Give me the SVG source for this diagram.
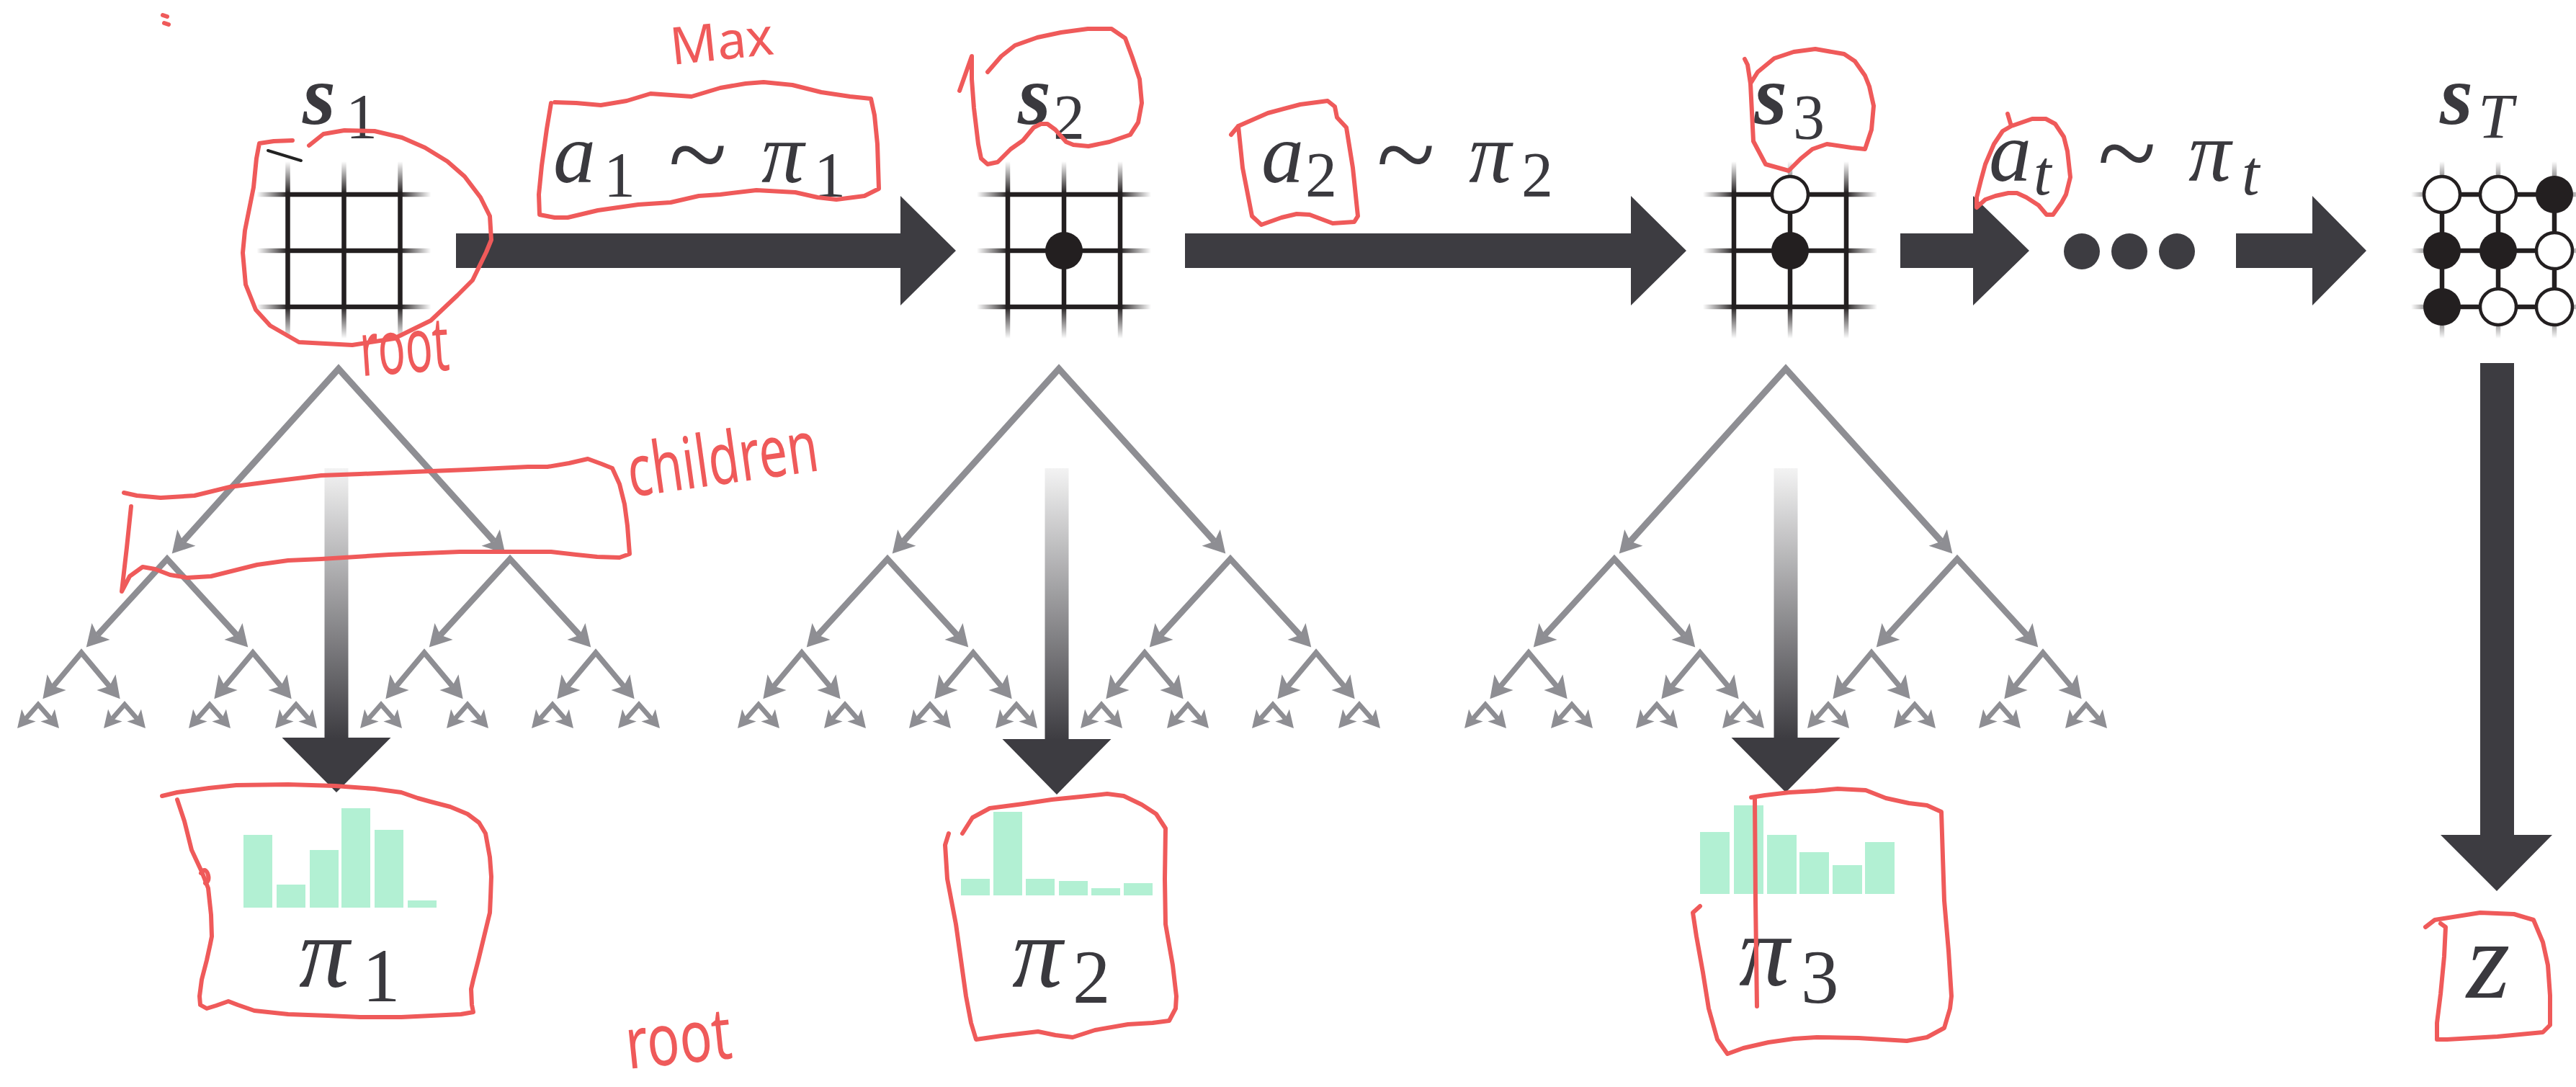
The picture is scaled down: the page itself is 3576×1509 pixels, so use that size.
<svg xmlns="http://www.w3.org/2000/svg" width="3576" height="1509" viewBox="0 0 3576 1509">
<defs>
<style>
.math{font-family:"Liberation Serif","DejaVu Serif","Times New Roman",serif;font-style:italic;fill:#3a393e}
.big{font-size:118px}
.sub{font-size:88px;font-style:normal}
.bsub{font-size:105px;font-style:normal}
.st{font-weight:bold}
.dark{fill:#3d3c41}
.bar{fill:#b2f0d3}
.bk{fill:#231f20}
.wt{fill:#fff;stroke:#231f20;stroke-width:4.5}
.e{fill:none;stroke:#8e8e93;stroke-linejoin:miter;marker-start:url(#ah);marker-end:url(#ah)}
.e1{stroke-width:9}
.e2{stroke-width:8.5}
.e3{stroke-width:7.5}
.e4{stroke-width:6.5;marker-start:url(#ahs);marker-end:url(#ahs)}
.ink{fill:none;stroke:#ef5a5a;stroke-width:6;stroke-linecap:round;stroke-linejoin:round}
.hand{font-family:"Noto Sans","DejaVu Sans",sans-serif;fill:#ef5a5a}
</style>
<marker id="ah" markerUnits="userSpaceOnUse" orient="auto-start-reverse" viewBox="0 -19 34 38" refX="7" refY="0" markerWidth="34" markerHeight="38" overflow="visible">
<path d="M0,-17 L30,0 L0,17 L7,0 Z" fill="#8e8e93"/>
</marker>
<marker id="ahs" markerUnits="userSpaceOnUse" orient="auto-start-reverse" viewBox="0 -15 28 30" refX="6" refY="0" markerWidth="28" markerHeight="30" overflow="visible">
<path d="M0,-13 L24,0 L0,13 L6,0 Z" fill="#8e8e93"/>
</marker>
<linearGradient id="gh" x1="0" y1="0" x2="1" y2="0">
<stop offset="0" stop-color="#231f20" stop-opacity="0"/>
<stop offset="0.1" stop-color="#231f20" stop-opacity="0.55"/>
<stop offset="0.18" stop-color="#231f20" stop-opacity="1"/>
<stop offset="0.82" stop-color="#231f20" stop-opacity="1"/>
<stop offset="0.9" stop-color="#231f20" stop-opacity="0.55"/>
<stop offset="1" stop-color="#231f20" stop-opacity="0"/>
</linearGradient>
<linearGradient id="gv" x1="0" y1="0" x2="0" y2="1">
<stop offset="0" stop-color="#231f20" stop-opacity="0"/>
<stop offset="0.1" stop-color="#231f20" stop-opacity="0.55"/>
<stop offset="0.18" stop-color="#231f20" stop-opacity="1"/>
<stop offset="0.82" stop-color="#231f20" stop-opacity="1"/>
<stop offset="0.9" stop-color="#231f20" stop-opacity="0.55"/>
<stop offset="1" stop-color="#231f20" stop-opacity="0"/>
</linearGradient>
<linearGradient id="fadeDown" x1="0" y1="0" x2="0" y2="1">
<stop offset="0" stop-color="#f3f3f3"/>
<stop offset="1" stop-color="#3d3c41"/>
</linearGradient>
<!-- 3x3 board with soft line ends, centred on 0,0 -->
<g id="board">
<rect x="-121" y="-81.25" width="242" height="6.5" fill="url(#gh)"/>
<rect x="-121" y="-3.25" width="242" height="6.5" fill="url(#gh)"/>
<rect x="-121" y="74.75" width="242" height="6.5" fill="url(#gh)"/>
<rect x="-81.25" y="-124" width="6.5" height="246" fill="url(#gv)"/>
<rect x="-3.25" y="-124" width="6.5" height="246" fill="url(#gv)"/>
<rect x="74.75" y="-124" width="6.5" height="246" fill="url(#gv)"/>
</g>
<!-- binary search tree, one level per group -->
<g id="t4"><path class="e e4" d="M-17.1,19.5 L0,0 L17.1,19.5"/></g>
<g id="t3"><path class="e e3" d="M-38.9,46.6 L0,0 L38.9,46.6"/><use href="#t4" x="-60" y="72"/><use href="#t4" x="60" y="72"/></g>
<g id="t2"><path class="e e2" d="M-96.7,105.6 L0,0 L96.7,105.6"/><use href="#t3" x="-119" y="130"/><use href="#t3" x="119" y="130"/></g>
<g id="t1"><path class="e e1" d="M-215.9,239.5 L0,0 L215.9,239.5"/><use href="#t2" x="-238" y="264"/><use href="#t2" x="238" y="264"/></g>
</defs>

<rect width="3576" height="1509" fill="#fff"/>

<!-- search trees -->
<g id="trees">
<use href="#t1" x="470" y="512"/>
<use href="#t1" x="1470" y="512"/>
<use href="#t1" x="2479" y="512"/>
</g>

<!-- connectors -->
<g id="connectors">
<polygon class="dark" points="633,324 1250,324 1250,272 1327,348 1250,424 1250,372 633,372"/>
<polygon class="dark" points="1645,324 2264,324 2264,272 2341,348 2264,424 2264,372 1645,372"/>
<polygon class="dark" points="2638,324 2739,324 2739,272 2817,348 2739,424 2739,372 2638,372"/>
<polygon class="dark" points="3104,324 3210,324 3210,272 3285,348 3210,424 3210,372 3104,372"/>
<polygon class="dark" points="3443,504 3490,504 3490,1159 3543,1159 3466,1237 3388,1159 3443,1159"/>
<rect x="450.5" y="650" width="33" height="375" fill="url(#fadeDown)"/>
<polygon class="dark" points="391.5,1024 542.5,1024 467,1100"/>
<rect x="1450.5" y="650" width="33" height="377" fill="url(#fadeDown)"/>
<polygon class="dark" points="1391.5,1026 1542.5,1026 1467,1103"/>
<rect x="2462.5" y="650" width="33" height="375" fill="url(#fadeDown)"/>
<polygon class="dark" points="2403.5,1024 2554.5,1024 2479,1100"/>
</g>

<!-- ellipsis -->
<g id="ellipsis" class="dark">
<circle cx="2890" cy="349" r="25"/>
<circle cx="2956" cy="349" r="25"/>
<circle cx="3022" cy="349" r="25"/>
</g>

<!-- states -->
<g id="state-s1">
<use href="#board" x="477.5" y="348"/>
<text class="math big st" x="420" y="172">s</text>
<text class="math sub" x="480" y="191">1</text>
</g>
<g id="state-s2">
<use href="#board" x="1477" y="348"/>
<circle class="bk" cx="1477" cy="348" r="26"/>
<text class="math big st" x="1413" y="172">s</text>
<text class="math sub" x="1462" y="192">2</text>
</g>
<g id="state-s3">
<use href="#board" x="2485" y="348"/>
<circle class="wt" cx="2485" cy="270" r="25"/>
<circle class="bk" cx="2485" cy="348" r="26"/>
<text class="math big st" x="2435" y="172">s</text>
<text class="math sub" x="2489" y="192">3</text>
</g>
<g id="state-sT">
<use href="#board" x="3468" y="348"/>
<circle class="wt" cx="3390" cy="270" r="25"/>
<circle class="wt" cx="3468" cy="270" r="25"/>
<circle class="bk" cx="3546" cy="270" r="26"/>
<circle class="bk" cx="3390" cy="348" r="26"/>
<circle class="bk" cx="3468" cy="348" r="26"/>
<circle class="wt" cx="3546" cy="348" r="25"/>
<circle class="bk" cx="3390" cy="426" r="26"/>
<circle class="wt" cx="3468" cy="426" r="25"/>
<circle class="wt" cx="3546" cy="426" r="25"/>
<text class="math big st" x="3387" y="172">s</text>
<text class="math" font-size="88" x="3440" y="191">T</text>
</g>

<!-- action labels -->
<g id="action-1">
<text class="math big" x="768" y="253">a</text>
<text class="math sub" x="838" y="272">1</text>
<text class="math" font-size="150" font-style="normal" x="926" y="265">~</text>
<text class="math big" x="1057" y="253">π</text>
<text class="math sub" x="1130" y="272">1</text>
</g>
<g id="action-2">
<text class="math big" x="1751" y="253">a</text>
<text class="math sub" x="1812" y="272">2</text>
<text class="math" font-size="150" font-style="normal" x="1909" y="265">~</text>
<text class="math big" x="2039" y="253">π</text>
<text class="math sub" x="2112" y="272">2</text>
</g>
<g id="action-t">
<text class="math big" x="2761" y="251">a</text>
<text class="math" font-size="88" x="2823" y="270">t</text>
<text class="math" font-size="150" font-style="normal" x="2910" y="263">~</text>
<text class="math big" x="3038" y="251">π</text>
<text class="math" font-size="88" x="3112" y="270">t</text>
</g>

<!-- search policies -->
<g id="policy-1">
<rect class="bar" x="338" y="1159" width="40" height="101"/>
<rect class="bar" x="384" y="1228" width="40" height="32"/>
<rect class="bar" x="430" y="1180" width="40" height="80"/>
<rect class="bar" x="474" y="1122" width="40" height="138"/>
<rect class="bar" x="520" y="1152" width="40" height="108"/>
<rect class="bar" x="566" y="1250" width="40" height="10"/>
<text class="math" font-size="140" x="415" y="1370">π</text>
<text class="math bsub" x="503" y="1390">1</text>
</g>
<g id="policy-2">
<rect class="bar" x="1334" y="1220" width="40" height="23"/>
<rect class="bar" x="1379" y="1127" width="40" height="116"/>
<rect class="bar" x="1424" y="1220" width="40" height="23"/>
<rect class="bar" x="1470" y="1223" width="40" height="20"/>
<rect class="bar" x="1515" y="1233" width="40" height="10"/>
<rect class="bar" x="1560" y="1226" width="40" height="17"/>
<text class="math" font-size="140" x="1405" y="1370">π</text>
<text class="math bsub" x="1489" y="1392">2</text>
</g>
<g id="policy-3">
<rect class="bar" x="2360" y="1155" width="41" height="86"/>
<rect class="bar" x="2407" y="1118" width="41" height="123"/>
<rect class="bar" x="2453" y="1159" width="41" height="82"/>
<rect class="bar" x="2498" y="1183" width="41" height="58"/>
<rect class="bar" x="2544" y="1201" width="41" height="40"/>
<rect class="bar" x="2589" y="1169" width="41" height="72"/>
<text class="math" font-size="140" x="2414" y="1368">π</text>
<text class="math bsub" x="2500" y="1392">3</text>
</g>
<g id="outcome-z">
<text class="math" font-size="155" x="3424" y="1385">z</text>
</g>

<!-- hand-drawn red annotations -->
<g id="annotations">
<path class="ink" d="M226,21 L232,23 M228,32 L234,34" stroke-width="3"/>
<path d="M372,209 L418,223" stroke="#222" stroke-width="4" stroke-linecap="round"/>
<path class="ink" d="M406,195 L380,196 L360,199 L356,220 L352,260 L340,320 L337,351 L341,395 L355,430 L375,452 L415,475 L489,479 L547,470 L598,445 L635,410 L656,389 L675,350 L682,333 L680,300 L667,274 L645,245 L621,224 L590,205 L558,191 L520,182 L478,181 L449,186 L429,202"/>
<text class="hand" font-size="105" transform="translate(502,522) rotate(-4) scale(0.6,1)">root</text>
<text class="hand" font-size="72" transform="translate(933,90) rotate(-6)">Max</text>
<path class="ink" d="M765,143 L759,179 L752,230 L748,270 L749,298 L770,302 L788,302 L830,292 L886,284 L931,281 L970,272 L1000,270 L1050,264 L1104,267 L1135,274 L1161,277 L1200,272 L1220,262 L1218,200 L1214,160 L1209,137 L1180,134 L1140,128 L1100,118 L1060,114 L1035,116 L1000,122 L960,134 L903,130 L870,140 L834,146 L800,143 L770,142"/>
<path class="ink" d="M1371,100 L1390,78 L1409,63 L1440,52 L1473,45 L1510,40 L1543,40 L1562,53 L1572,80 L1582,110 L1585,143 L1580,170 L1569,187 L1540,197 L1511,203 L1490,201 L1480,197 L1465,180 L1454,172 L1445,172 L1435,177 L1420,195 L1403,207 L1385,225 L1371,228 L1362,220 L1358,200 L1352,150 L1349,110 L1349,78 L1332,126"/>
<path class="ink" d="M1709,187 L1719,175 L1760,157 L1805,145 L1843,140 L1853,148 L1856,163 L1869,177 L1878,233 L1885,300 L1880,308 L1850,310 L1818,298 L1800,297 L1779,302 L1751,312 L1738,300 L1725,233 L1719,175"/>
<path class="ink" d="M2422,82 L2426,90 L2430,116 L2434,196 L2451,228 L2483,237 L2500,220 L2516,207 L2536,200 L2570,205 L2589,207 L2598,180 L2601,147 L2595,120 L2589,105 L2575,85 L2560,75 L2520,68 L2490,72 L2463,81 L2440,100 L2430,116"/>
<path class="ink" d="M2787,158 L2792,175 L2821,165 L2840,165 L2853,172 L2865,190 L2870,210 L2874,246 L2868,270 L2862,281 L2850,298 L2841,298 L2830,285 L2813,274 L2800,268 L2788,268 L2770,272 L2756,277 L2744,288 L2744,274 L2750,250 L2756,228 L2768,200 L2780,182 L2792,175"/>
<path class="ink" d="M182,703 L176,760 L169,821 L180,800 L198,787 L215,790 L236,798 L260,802 L293,800 L325,792 L357,784 L400,778 L446,776 L540,770 L638,766 L700,766 L765,766 L800,770 L829,773 L860,774 L874,769 L871,730 L867,700 L860,672 L850,650 L835,644 L816,637 L790,643 L760,648 L733,648 L650,652 L574,655 L500,658 L446,660 L380,668 L319,676 L270,688 L223,691 L190,688 L172,684"/>
<text class="hand" font-size="100" transform="translate(876,690) rotate(-8) scale(0.7,1)">children</text>
<path class="ink" d="M225,1105 L246,1100 L290,1094 L328,1090 L400,1089 L465,1091 L520,1095 L557,1100 L580,1108 L598,1113 L625,1120 L649,1130 L665,1142 L674,1157 L680,1190 L682,1217 L681,1245 L680,1267 L672,1300 L664,1333 L657,1360 L654,1373 L655,1395 L657,1405 L640,1408 L557,1412 L500,1412 L455,1410 L400,1408 L353,1403 L330,1395 L317,1390 L300,1396 L287,1400 L278,1395 L277,1383 L280,1360 L287,1333 L292,1310 L294,1300 L293,1270 L289,1233 L280,1210 L266,1180 L256,1140 L246,1110"/>
<path class="ink" d="M279,1212 Q284,1204 288,1212 Q292,1222 285,1226" stroke-width="4"/>
<text class="hand" font-size="100" transform="translate(872,1484) rotate(-6) scale(0.75,1)">root</text>
<path class="ink" d="M1317,1157 L1312,1173 L1315,1220 L1327,1283 L1335,1340 L1341,1383 L1348,1420 L1355,1443 L1390,1438 L1441,1432 L1465,1437 L1489,1440 L1520,1430 L1566,1422 L1600,1420 L1623,1417 L1632,1400 L1633,1383 L1628,1340 L1618,1283 L1617,1220 L1618,1150 L1605,1130 L1585,1117 L1560,1105 L1537,1102 L1500,1106 L1460,1110 L1420,1116 L1374,1122 L1350,1135 L1336,1157"/>
<path class="ink" d="M2360,1258 L2350,1267 L2355,1300 L2364,1350 L2372,1400 L2384,1443 L2398,1463 L2420,1455 L2455,1447 L2490,1442 L2522,1440 L2580,1441 L2647,1445 L2675,1440 L2699,1427 L2707,1400 L2709,1383 L2705,1320 L2699,1250 L2697,1190 L2695,1127 L2675,1118 L2650,1115 L2618,1108 L2590,1097 L2551,1095 L2520,1098 L2484,1100 L2450,1104 L2431,1107"/>
<path class="ink" d="M2436,1108 L2437,1250 L2439,1397" stroke-width="4"/>
<path class="ink" d="M3367,1287 L3380,1277 L3443,1267 L3490,1269 L3517,1277 L3530,1308 L3537,1340 L3540,1382 L3540,1423 L3530,1433 L3467,1439 L3397,1443 L3383,1443 L3383,1420 L3388,1380 L3393,1328 L3395,1287 L3388,1282"/>
</g>
</svg>
